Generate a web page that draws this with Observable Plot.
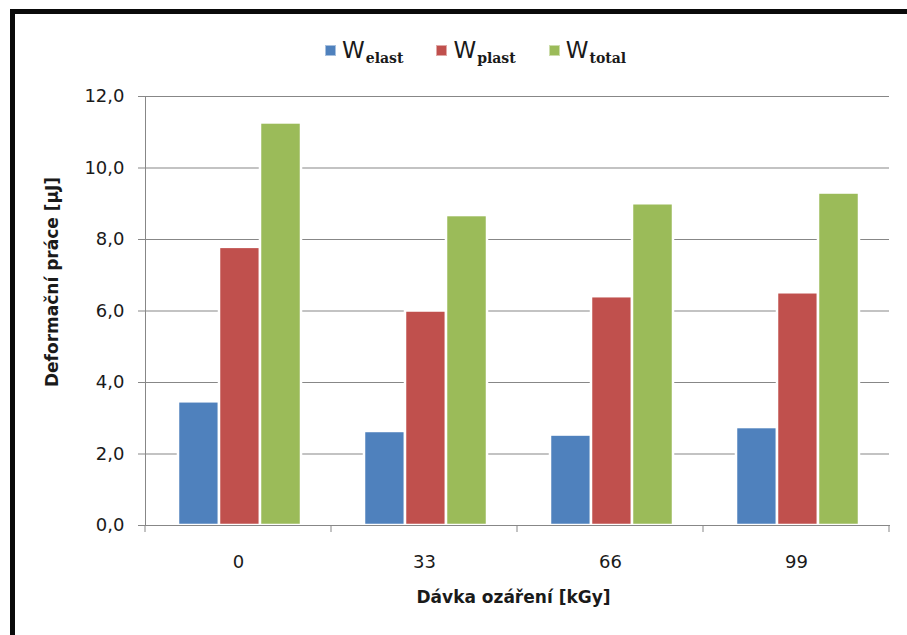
<!DOCTYPE html>
<html>
<head>
<meta charset="utf-8">
<script src="https://cdn.jsdelivr.net/npm/d3@7"></script>
<script src="https://cdn.jsdelivr.net/npm/@observablehq/plot@0.6"></script>
<style>
  body { margin: 0; background: #fff; width: 907px; height: 635px; overflow: hidden; position: relative; font-family: "DejaVu Sans", sans-serif; }
  #frame { position: absolute; left: 10px; top: 9px; right: -20px; bottom: -20px; border-left: 5px solid #0a0a0a; border-top: 5px solid #0a0a0a; pointer-events: none; z-index: 2; }
  #legend { position: absolute; left: 0; top: 0; width: 907px; height: 70px; }
  #legend .items { position: absolute; left: 325px; top: 37px; display: flex; align-items: center; gap: 33px; }
  #legend .item { display: flex; align-items: center; color: #1a1a1a; }
  #legend .swatch { width: 11px; height: 11px; margin-right: 6px; box-sizing: border-box; border: 1px solid rgba(255,255,255,0.5); }
  #legend .w { font-size: 23px; line-height: 26px; }
  #legend .w sub { font-family: "DejaVu Serif", serif; font-weight: bold; font-size: 14px; vertical-align: -5px; line-height: 0; margin-left: 1px; }
  #chart { position: absolute; left: 0; top: 70px; }
</style>
</head>
<body>
<div id="frame"></div>
<div id="legend"><div class="items"></div></div>
<div id="chart"></div>
<script>
// Irradiation doses (kGy) on the x axis
const doses = ["0", "33", "66", "99"];
// Work components (μJ)
const series = ["elast", "plast", "total"];
const wElast = [3.46, 2.63, 2.53, 2.74];
const wPlast = [7.78, 6.00, 6.40, 6.51];
const wTotal = [11.26, 8.67, 9.00, 9.30];
const seriesColors = ["#4F81BD", "#C0504D", "#9BBB59"];
const yTicks = [0, 2, 4, 6, 8, 10, 12];

const valuesBySeries = {elast: wElast, plast: wPlast, total: wTotal};
const rows = doses.flatMap((dose, i) =>
  series.map((s) => ({dose, series: s, value: valuesBySeries[s][i]}))
);

// Legend: W with a subscript per series
const items = d3.select("#legend .items");
series.forEach((s, i) => {
  const item = items.append("div").attr("class", "item");
  item.append("div").attr("class", "swatch").style("background", seriesColors[i]);
  const w = item.append("span").attr("class", "w").text("W");
  w.append("sub").text(s);
});

const gridColor = "#878787";
const comma = (d) => d.toFixed(1).replace(".", ",");

const chart = Plot.plot({
  width: 907,
  height: 565,
  marginLeft: 145,
  marginRight: 18,
  marginTop: 26,
  marginBottom: 110,
  style: {fontFamily: "DejaVu Sans, sans-serif", fontSize: "18px", color: "#1a1a1a", background: "transparent", overflow: "visible"},
  fx: {domain: doses, padding: 0},
  x: {domain: series, paddingInner: 0, paddingOuter: 0.741, align: 0.53, axis: null},
  y: {domain: [0, 12]},
  color: {domain: series, range: seriesColors},
  marks: [
    Plot.gridY(yTicks, {stroke: gridColor, strokeOpacity: 1}),
    Plot.barY(rows, {fx: "dose", x: "series", y: "value", fill: "series", stroke: "white", strokeWidth: 2.5}),
    Plot.frame({anchor: "left", facet: "super", stroke: gridColor}),
    Plot.frame({anchor: "bottom", facet: "super", stroke: gridColor}),
    Plot.axisY(yTicks, {tickFormat: comma, tickSize: 7, tickPadding: 14, stroke: gridColor, label: null}),
    Plot.axisFx({anchor: "bottom", tickSize: 0, tickPadding: 30, label: null}),
    Plot.text(["Deformační práce [μJ]"], {facet: "super", frameAnchor: "left", textAnchor: "middle", lineAnchor: "middle", rotate: -90, dx: -93, dy: -29, fontWeight: "bold", fontSize: 17, fill: "#1a1a1a"}),
    Plot.text(["Dávka ozáření [kGy]"], {facet: "super", frameAnchor: "bottom", textAnchor: "middle", lineAnchor: "middle", dx: -4, dy: 72, fontWeight: "bold", fontSize: 17, fill: "#1a1a1a"})
  ]
});

// Category boundary ticks below the baseline
const fxScale = chart.scale("fx");
const y0 = chart.scale("y").apply(0);
const edges = [...doses.map((d) => fxScale.apply(d)), fxScale.apply(doses[doses.length - 1]) + fxScale.bandwidth];
d3.select(chart).append("g")
  .attr("stroke", gridColor)
  .selectAll("line")
  .data(edges)
  .join("line")
  .attr("x1", (d) => d).attr("x2", (d) => d)
  .attr("y1", y0).attr("y2", y0 + 7);

document.getElementById("chart").append(chart);
</script>
</body>
</html>
